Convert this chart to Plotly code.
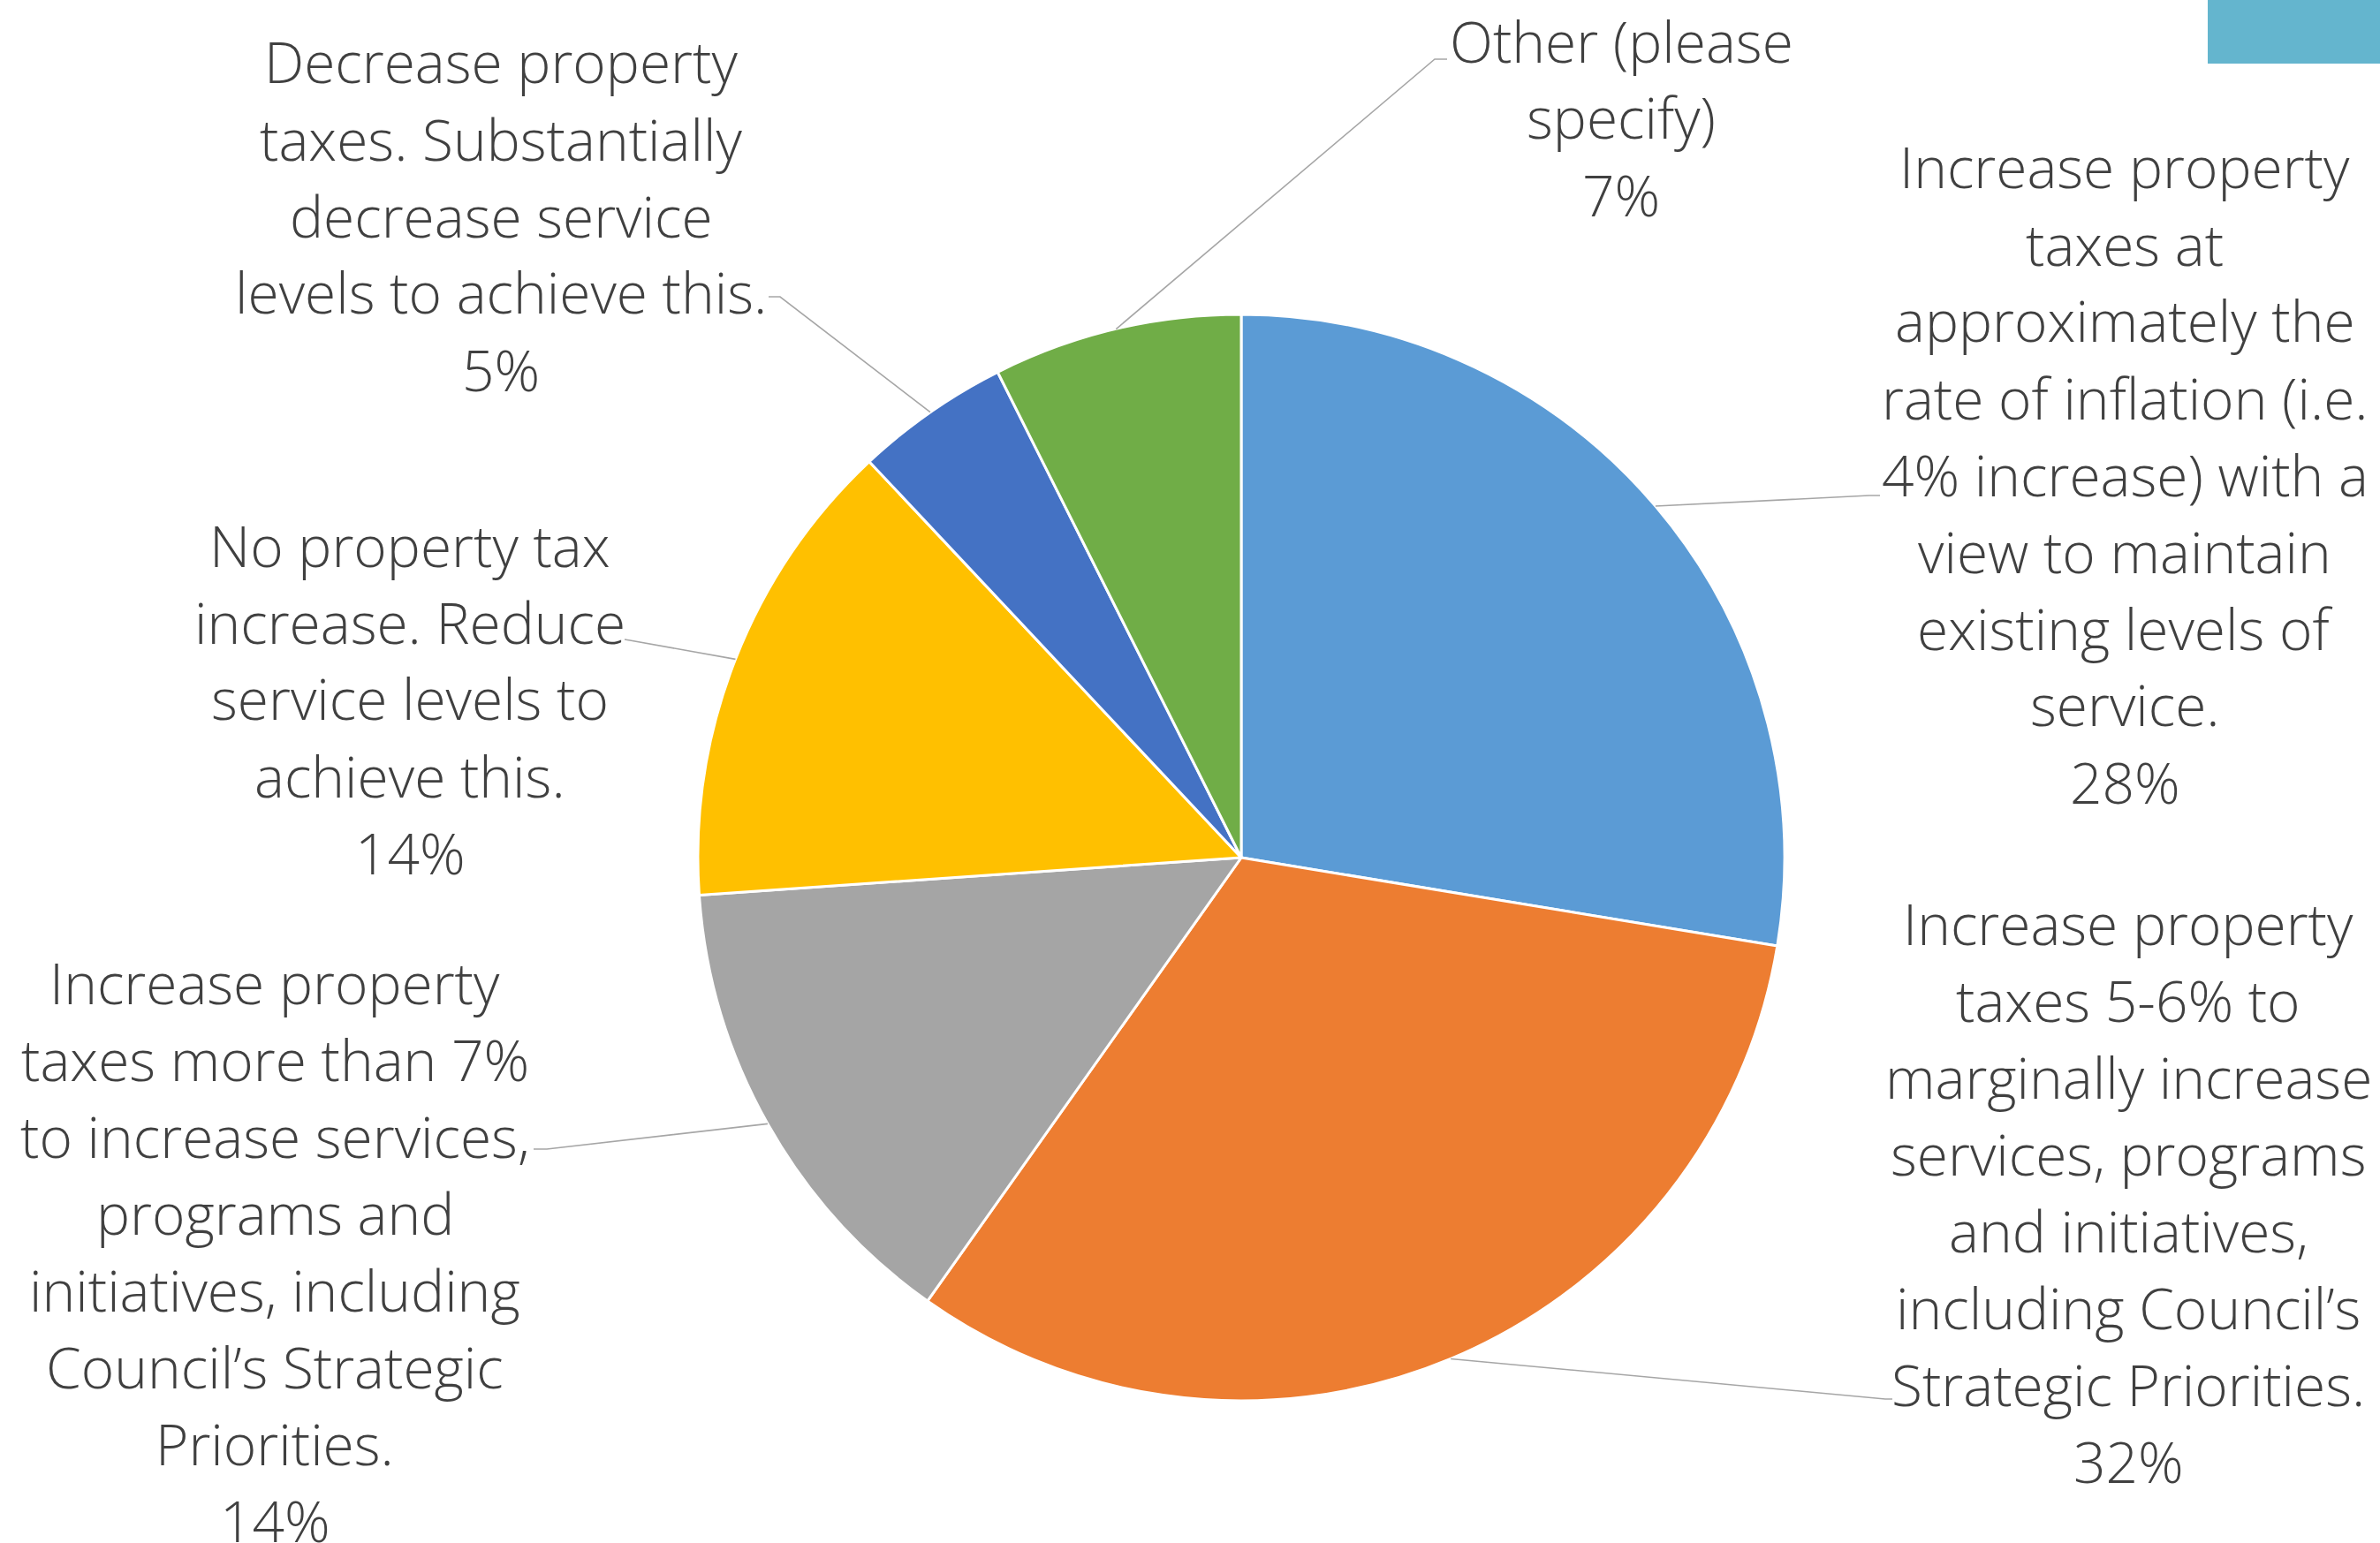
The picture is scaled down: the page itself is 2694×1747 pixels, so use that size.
import math
import plotly.graph_objects as go

# ---------------- data ----------------
categories = [
    "Increase property taxes at approximately the rate of inflation (i.e. 4% increase) with a view to maintain existing levels of service.",
    "Increase property taxes 5-6% to marginally increase services, programs and initiatives, including Council’s Strategic Priorities.",
    "Increase property taxes more than 7% to increase services, programs and initiatives, including Council’s Strategic Priorities.",
    "No property tax increase. Reduce service levels to achieve this.",
    "Decrease property taxes. Substantially decrease service levels to achieve this.",
    "Other (please specify)",
]
values = [27.6, 32.2, 14.1, 14.1, 4.6, 7.4]
# wrapped label lines as shown in the chart
label_lines = [
    ["Increase property", "taxes at", "approximately the", "rate of inflation (i.e.",
     "4% increase) with a", "view to maintain", "existing levels of", "service."],
    ["Increase property", "taxes 5-6% to", "marginally increase", "services, programs",
     "and initiatives,", "including Council’s", "Strategic Priorities."],
    ["Increase property", "taxes more than 7%", "to increase services,", "programs and",
     "initiatives, including", "Council’s Strategic", "Priorities."],
    ["No property tax", "increase. Reduce", "service levels to", "achieve this."],
    ["Decrease property", "taxes. Substantially", "decrease service", "levels to achieve this."],
    ["Other (please", "specify)"],
]
colors = ["#5B9BD5", "#ED7D31", "#A5A5A5", "#FFC000", "#4472C4", "#70AD47"]

# ---------------- layout constants (pixels) ----------------
W, H = 2694, 1747
CX, CY, R = 1405, 971, 615
LINE_STEP = 87
FONT_SIZE = 64
TEXT_COLOR = "#404040"
# label block: (center x, first line center y)
label_pos = [(2405, 189), (2409, 1045), (311, 1112), (464, 617), (567, 70), (1835, 46)]
# leader elbow point and stub end
leader_pts = [
    ((2116, 561), (2128, 561)),
    ((2134, 1584), (2142, 1584)),
    ((619, 1301), (604, 1301)),
    ((713, 725), (707, 724)),
    ((883, 336), (870, 336)),
    ((1624, 67), (1638, 67)),
]


def px(x):
    return x / W


def py(y):
    return 1 - y / H


fig = go.Figure()
fig.add_trace(go.Pie(
    labels=categories,
    values=values,
    sort=False,
    direction="clockwise",
    rotation=0,
    marker=dict(colors=colors, line=dict(color="white", width=3)),
    textinfo="none",
    hoverinfo="label+percent",
    showlegend=False,
    domain=dict(x=[px(CX - R), px(CX + R)], y=[py(CY + R), py(CY - R)]),
))

total = sum(values)
cum = 0
shapes = []
annotations = []
for i, v in enumerate(values):
    mid = (cum + v / 2) / total
    cum += v
    th = 2 * math.pi * mid
    sx = CX + R * math.sin(th)
    sy = CY - R * math.cos(th)
    (ex, ey), (tx, ty) = leader_pts[i]
    path = f"M {px(sx)} {py(sy)} L {px(ex)} {py(ey)} L {px(tx)} {py(ty)}"
    shapes.append(dict(type="path", xref="paper", yref="paper", path=path,
                       line=dict(color="#A6A6A6", width=1.6)))
    pct = f"{round(v / total * 100)}%"
    lines = label_lines[i] + [pct]
    lx, ly = label_pos[i]
    for j, t in enumerate(lines):
        annotations.append(dict(
            x=px(lx), y=py(ly + j * LINE_STEP), xref="paper", yref="paper",
            text=t, showarrow=False, xanchor="center", yanchor="middle",
            font=dict(family="Open Sans", size=FONT_SIZE, color=TEXT_COLOR, weight=300),
        ))

# cropped legend swatch in the top-right corner
shapes.append(dict(type="rect", xref="paper", yref="paper",
                   x0=px(2499), x1=px(W), y0=py(72), y1=py(0),
                   fillcolor="#64B5CE", line=dict(width=0)))

fig.update_layout(
    width=W, height=H,
    margin=dict(l=0, r=0, t=0, b=0),
    paper_bgcolor="white", plot_bgcolor="white",
    shapes=shapes, annotations=annotations,
)
fig.write_html("out.html",
               config={"displayModeBar": False},
               post_script="document.body.style.margin='0px';document.body.style.overflow='hidden';")
